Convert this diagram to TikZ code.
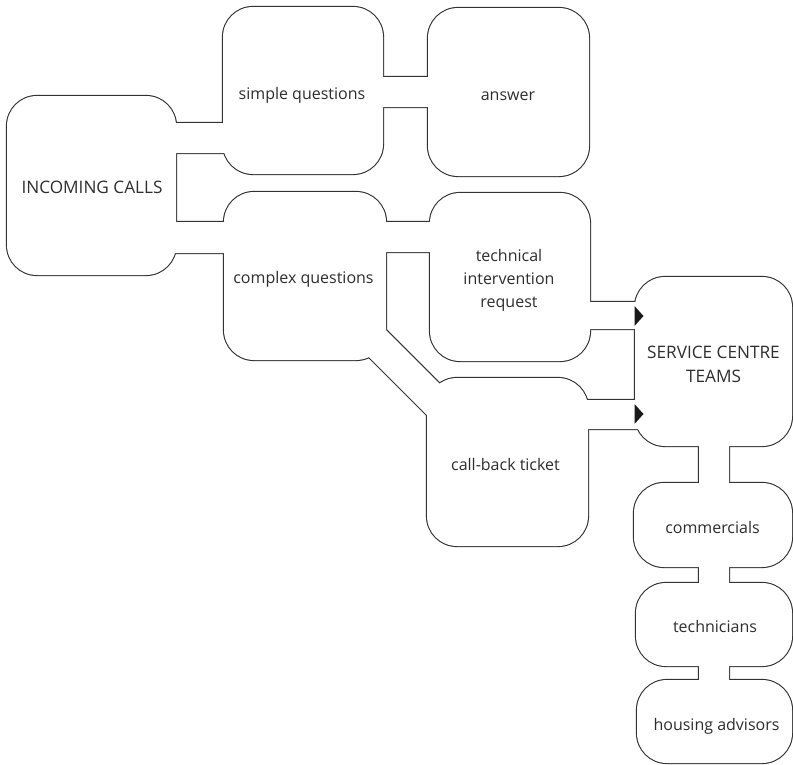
\documentclass[tikz,border=0pt]{standalone}
\usepackage{fontspec}
\setmainfont{Open Sans}
\definecolor{linec}{HTML}{333333}
\definecolor{textc}{HTML}{2E2E2E}

% All boxes and the channels between them; drawn once with a thick
% stroke and once with a white fill, so only the outline of the union shows.
\newcommand\pipeshapes[1]{%
  \path[#1, rounded corners=30pt]
    (7,96)    rectangle (176,275)   % incoming calls
    (223,7)   rectangle (383,174)   % simple questions
    (428,8)   rectangle (589,176)   % answer
    (224,192) rectangle (386,360)   % complex questions
    (430,193) rectangle (590,361)   % technical intervention request
    (427,378) rectangle (588,546)   % call-back ticket
    (635,277) rectangle (792,446)   % service centre teams
    (634,483) rectangle (792,567)   % commercials
    (636,583) rectangle (792,666)   % technicians
    (637,680) rectangle (792,763);  % housing advisors
  \path[#1]
    (150,123) rectangle (250,153)
    (360,77)  rectangle (450,107)
    (150,222) rectangle (250,253)
    (360,222) rectangle (455,252)
    (565,302) rectangle (660,329)
    (565,400) rectangle (660,429)
    (699,420) rectangle (729,510)
    (699,540) rectangle (729,610)
    (699,640) rectangle (729,705)
    (370,314) -- (460,404) -- (450,438) -- (340,328) -- cycle;
}

\begin{document}
\begin{tikzpicture}[x=1pt, y=-1pt,
    lbl/.style={text=textc, inner sep=0pt, anchor=base,
      font=\fontsize{16}{23}\selectfont, align=center},
    caps/.style={lbl, font=\fontsize{17.2}{24}\selectfont},
    tip/.style={fill=black!90}]
  \useasboundingbox (0,0) rectangle (793,764);

  \pipeshapes{draw=linec, line width=2.2pt}
  \pipeshapes{fill=white}

  % entry marks into the service centre
  \fill[tip] (634.5,306) -- (643.5,316) -- (634.5,326) -- cycle;
  \fill[tip] (634.5,404) -- (643.5,414) -- (634.5,424) -- cycle;

  % multi-line labels are placed by the baseline of their last line
  \node[caps] (incoming)   at (92,193)    {INCOMING CALLS};
  \node[lbl] (simple)      at (302,99)    {simple questions};
  \node[lbl] (answer)      at (508,100)   {answer};
  \node[lbl] (complex)     at (303.5,283) {complex questions};
  \node[lbl] (technical)   at (509,307)   {technical\\intervention\\request};
  \node[caps] (service)    at (713.5,382) {SERVICE CENTRE\\TEAMS};
  \node[lbl] (callback)    at (505.5,470) {call-back ticket};
  \node[lbl] (commercials) at (712.5,533) {commercials};
  \node[lbl] (technicians) at (715,632)   {technicians};
  \node[lbl] (housing)     at (716.5,730) {housing advisors};
\end{tikzpicture}
\end{document}
